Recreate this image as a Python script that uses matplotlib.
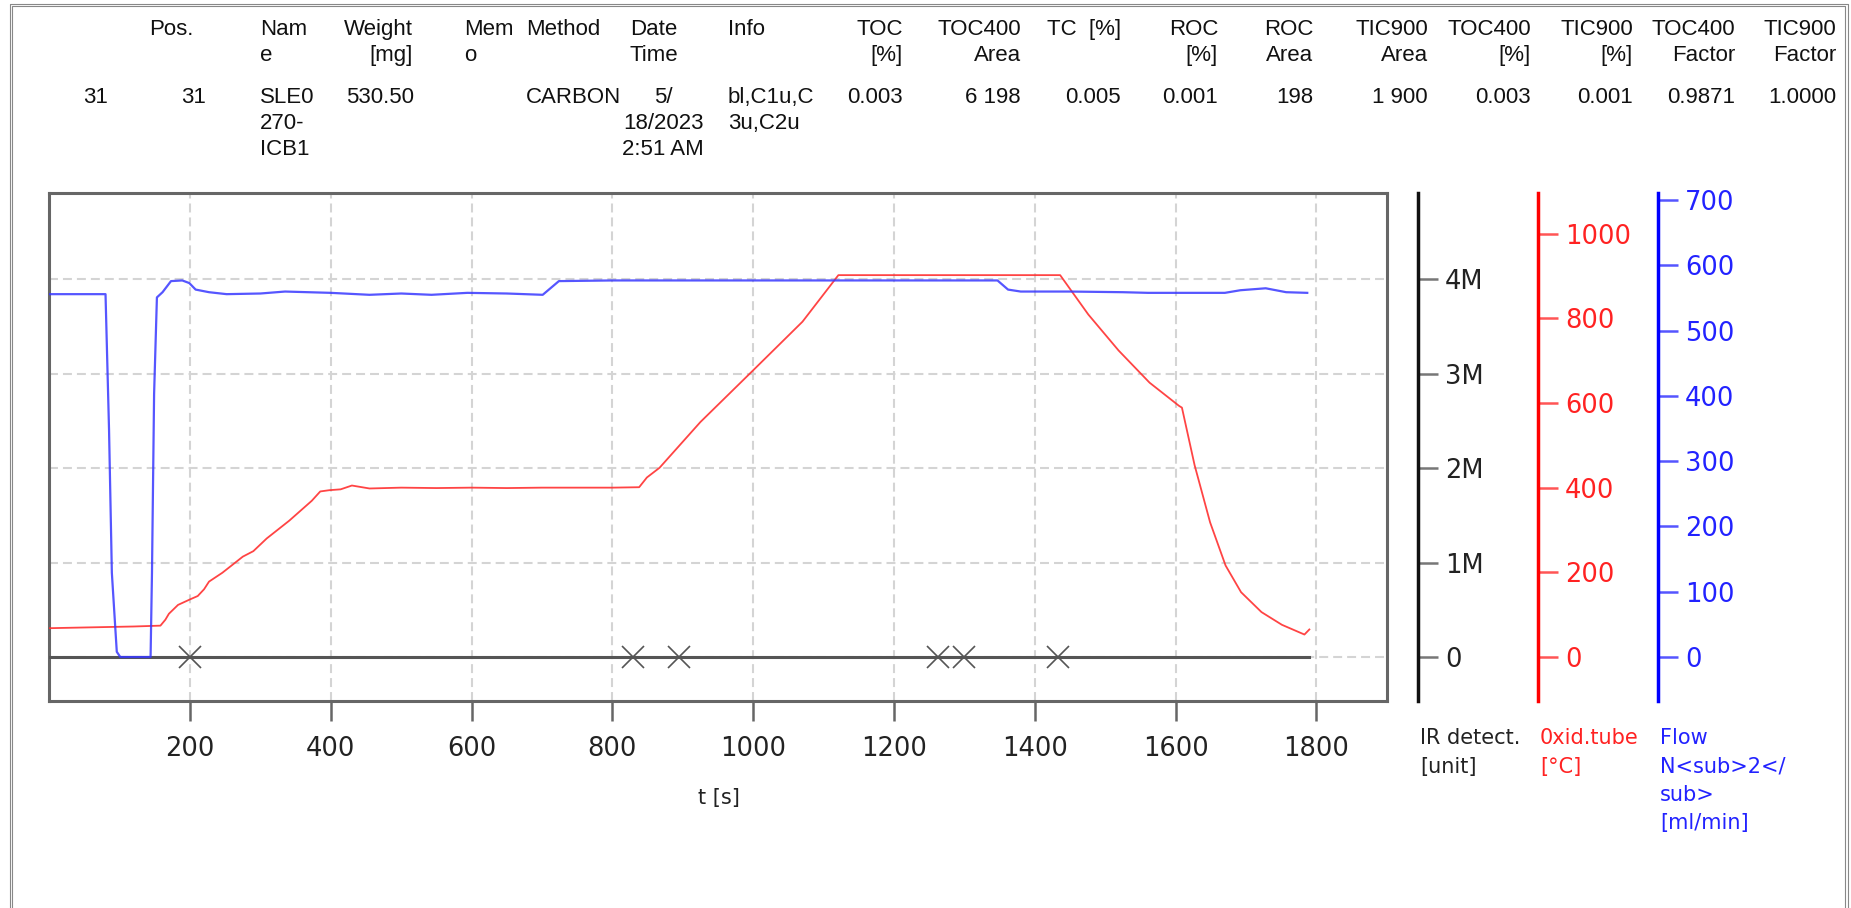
import matplotlib
matplotlib.use("Agg")
import matplotlib.pyplot as plt
from matplotlib.lines import Line2D
import numpy as np

W, H = 1851, 908

# ---- header table -------------------------------------------------------
col_headers = ["", "Pos.", "Nam\ne", "Weight\n[mg]", "Mem\no", "Method",
               "Date\nTime", "Info", "TOC\n[%]", "TOC400\nArea", "TC  [%]",
               "ROC\n[%]", "ROC\nArea", "TIC900\nArea", "TOC400\n[%]",
               "TIC900\n[%]", "TOC400\nFactor", "TIC900\nFactor"]
row_values = ["31", "31", "SLE0\n270-\nICB1", "530.50", "", "CARBON",
              "5/\n18/2023\n2:51 AM", "bl,C1u,C\n3u,C2u", "0.003", "6 198",
              "0.005", "0.001", "198", "1 900", "0.003", "0.001", "0.9871",
              "1.0000"]

# ---- traces -------------------------------------------------------------
ir_t = [0, 1790]
ir_val = [0, 0]
marker_t = [200, 829, 894, 1262, 1299, 1433]

temp_t = [0, 60, 120, 158, 165, 170, 183, 200, 211, 220, 227, 246, 259, 275,
          290, 309, 341, 373, 385, 398, 414, 430, 455, 500, 550, 600, 650,
          700, 750, 800, 838, 849, 867, 925, 998, 1070, 1121, 1200, 1300,
          1436, 1476, 1519, 1563, 1605, 1609, 1627, 1649, 1671, 1693, 1722,
          1751, 1783, 1790]
temp_c = [68, 70, 72, 74, 88, 102, 123, 136, 144, 160, 178, 199, 216, 237,
          250, 280, 322, 369, 391, 394, 396, 405, 398, 400, 399, 400, 399,
          400, 400, 400, 401, 424, 447, 555, 674, 792, 902, 902, 902,
          902, 809, 724, 648, 593, 589, 453, 318, 216, 153, 106,
          76, 53, 65]

flow_t = [0, 80, 85, 89, 96, 101, 144, 146, 149, 153, 161, 173, 189, 199,
          208, 227, 252, 300, 335, 400, 455, 500, 543, 594, 650, 701, 724,
          800, 1000, 1200, 1347, 1362, 1380, 1450, 1525, 1561, 1670, 1692,
          1728, 1757, 1787]
flow_ml = [556, 556, 348, 129, 8, 0, 0, 129, 403, 551, 559, 576, 577, 573,
           563, 559, 556, 557, 560, 558, 555, 557, 555, 558, 557, 555, 576,
           577, 577, 577, 577, 563, 560, 560, 559, 558, 558, 562,
           565, 559, 558]

x_ticks = [200, 400, 600, 800, 1000, 1200, 1400, 1600, 1800]
ir_ticks = [0, 1e6, 2e6, 3e6, 4e6]
ir_labels = ["0", "1M", "2M", "3M", "4M"]
temp_ticks = [0, 200, 400, 600, 800, 1000]
flow_ticks = [0, 100, 200, 300, 400, 500, 600, 700]


def fx(px):
    return px / W


def fy(py):
    return 1 - py / H


fig = plt.figure(figsize=(W / 100, H / 100), dpi=100)

# outer double frame
for x0, y0, x1 in [(9.5, 3.5, 1847.5), (11.5, 5.5, 1844.5)]:
    fig.add_artist(Line2D([fx(x0), fx(x0), fx(x1), fx(x1)],
                         [0, fy(y0), fy(y0), 0], color="#888888", lw=0.8,
                         transform=fig.transFigure))

# table layout: (header x, header ha, value x, value ha)
layout = [(108, "right", 108, "right"), (193, "right", 206, "right"),
          (260, "left", 260, "left"), (413, "right", 346, "left"),
          (464, "left", 464, "left"), (526, "left", 526, "left"),
          (654, "center", 663, "center"), (728, "left", 728, "left"),
          (903, "right", 903, "right"), (1021, "right", 1021, "right"),
          (1047, "left", 1121, "right"), (1218, "right", 1218, "right"),
          (1313, "right", 1313, "right"), (1428, "right", 1428, "right"),
          (1531, "right", 1531, "right"), (1633, "right", 1633, "right"),
          (1735, "right", 1735, "right"), (1836, "right", 1836, "right")]
tbl_font = dict(family=["Liberation Sans", "DejaVu Sans"],
                fontsize=16, color="#111111", va="center")
for head, val, (hx, hha, vx, vha) in zip(col_headers, row_values, layout):
    for i, line in enumerate(head.split("\n")):
        fig.text(fx(hx), fy(29.5 + 26 * i), line, ha=hha, **tbl_font)
    for i, line in enumerate(val.split("\n")):
        fig.text(fx(vx), fy(97.5 + 26 * i), line, ha=vha, **tbl_font)

# ---- chart ----------------------------------------------------------------
left, right, top, bottom = 49.2, 1386.8, 193, 701
pos = [fx(left), fy(bottom), fx(right) - fx(left), fy(top) - fy(bottom)]
ax = fig.add_axes(pos)
ax.set_xlim(0, 1900)
ax.set_ylim(-0.466e6, 4.915e6)
ax.set_xticks(x_ticks)
ax.set_yticks(ir_ticks)
ax.grid(True, color="#d4d4d4", lw=1.5, ls=(0, (4.3, 2.4)))
ax.tick_params(axis="x", color="#666666", length=14.4, width=1.8, pad=11,
               labelsize=18.5, labelcolor="#222222")
for s in ax.spines.values():
    s.set_color("#666666")
    s.set_linewidth(2.2)

ax.plot(ir_t, ir_val, color="#555555", lw=2.2, zorder=3)
ax.plot(marker_t, [0] * len(marker_t), ls="none", marker="x", ms=16,
        mew=1.2, color="#555555", zorder=4)


def side_axis(offset, ylim, ticks, spine_c, tick_c, label_c, labels=None):
    a = ax.twinx()
    a.set_position(pos)
    a.set_ylim(*ylim)
    for name, s in a.spines.items():
        s.set_visible(name == "right")
    a.spines["right"].set_position(("axes", offset))
    a.spines["right"].set_color(spine_c)
    a.spines["right"].set_linewidth(2.5)
    a.set_yticks(ticks)
    if labels is not None:
        a.set_yticklabels(labels)
    a.tick_params(axis="y", color=tick_c, labelcolor=label_c, length=14.4,
                  width=1.8, pad=5, labelsize=18.5)
    return a


ax_ir = side_axis(1.0233, (-0.466e6, 4.915e6), ir_ticks, "#111111",
                  "#777777", "#222222", ir_labels)
ax_tmp = side_axis(1.1130, (-104, 1096), temp_ticks, "#ff0000", "#ff5555",
                   "#ff2222")
ax_flw = side_axis(1.2027, (-67.4, 711), flow_ticks, "#0000ff", "#5555ff",
                   "#2222ff")
# twinx turns the left ticks of the host back on
ax.tick_params(axis="y", left=False, right=False, labelleft=False,
               labelright=False)

ax_flw.plot(flow_t, flow_ml, color="#3838ff", lw=1.6, alpha=0.85)
ax_tmp.plot(temp_t, temp_c, color="#ff3030", lw=1.3, alpha=0.9)

# axis captions
fig.text(fx(719), fy(798), "t [s]", ha="center", va="center", fontsize=15,
         color="#222222")
captions = [(1420, "IR detect.\n[unit]", "#222222"),
            (1540, "0xid.tube\n[°C]", "#ff2222"),
            (1660, "Flow\nN<sub>2</\nsub>\n[ml/min]", "#2222ff")]
for cx, txt, c in captions:
    for i, line in enumerate(txt.split("\n")):
        fig.text(fx(cx), fy(738 + 28.5 * i), line, ha="left", va="center",
                 fontsize=15, color=c)

fig.savefig("out.png", dpi=100)
